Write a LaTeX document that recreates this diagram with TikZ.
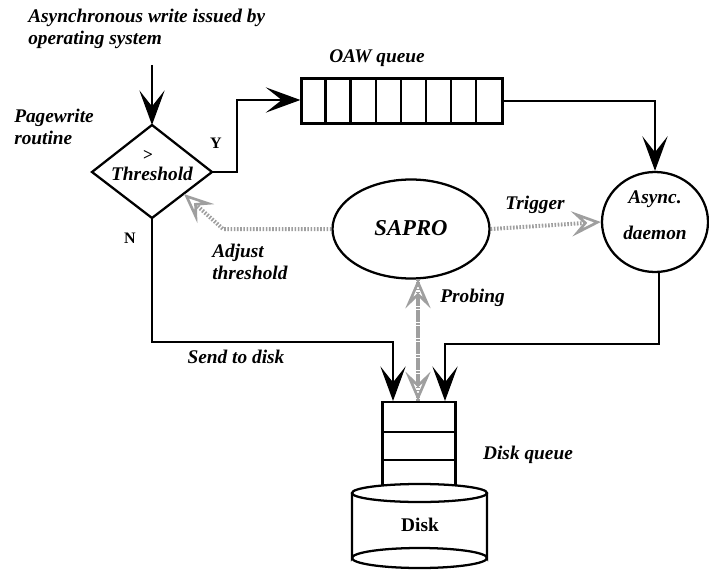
\documentclass[tikz,border=0pt]{standalone}
\usepackage{fontspec}
\setmainfont{Liberation Serif}
\usetikzlibrary{arrows.meta,shapes.geometric}
\begin{document}
\begin{tikzpicture}[x=0.75pt,y=-0.75pt,
  lbl/.style={font=\fontsize{14.5}{17}\selectfont\bfseries\itshape, inner sep=0pt, align=left},
  flow/.style={line width=1.8pt, -{Stealth[length=26pt,width=19pt,inset=12pt,line width=1pt]}},
  probe/.style={gray!75, line width=3pt, dash pattern=on 1.2pt off 1.2pt},
  probehead/.style={probe, -{Stealth[length=22pt,width=19pt,inset=9pt,open,line width=2pt]}},
  shapeln/.style={draw, line width=1.7pt}]
\useasboundingbox (0,0) rectangle (709,570);

% labels
\node[lbl, anchor=west] (top1) at (28,18) {Asynchronous write issued by};
\node[lbl, anchor=west] (top2) at (28,40) {operating system};
\node[lbl, anchor=west] (pw) at (14,127) {Pagewrite\\routine};
\node[lbl] (oawl) at (377,58) {OAW queue};
\node[font=\fontsize{12}{14}\selectfont\bfseries, inner sep=0pt] (yl) at (216,143) {Y};
\node[font=\fontsize{12}{14}\selectfont\bfseries, inner sep=0pt] (nl) at (130,238) {N};
\node[lbl] (trig) at (535,205) {Trigger};
\node[lbl, anchor=west] (adj) at (212,262) {Adjust\\threshold};
\node[lbl, anchor=west] (prob) at (440,298) {Probing};
\node[lbl] (send) at (236,357) {Send to disk};
\node[lbl] (dq) at (528,455) {Disk queue};

% diamond
\coordinate (dT) at (152,125);
\coordinate (dL) at (92,172);
\coordinate (dR) at (212,172);
\coordinate (dB) at (152,218);
\draw[shapeln] (dT) -- (dR) -- (dB) -- (dL) -- cycle;
\node[font=\fontsize{13}{15}\selectfont\bfseries, inner sep=0pt] (gt) at (148,155) {>};
\node[lbl] (thr) at (152,174) {Threshold};
\coordinate (start) at (152,65);
\draw[flow] (start) -- (dT);

% OAW queue
\node[shapeln, minimum width=201pt*0.75, minimum height=45pt*0.75, inner sep=0pt] (oaw) at (402,101) {};
\foreach \i in {1,...,7} {
  \draw[line width=1.7pt] ([xshift=\i*25.1*0.75pt]oaw.north west) -- ([xshift=\i*25.1*0.75pt]oaw.south west);
}
\coordinate (yc1) at (237,172);
\coordinate (yc2) at (237,100);
\draw[flow] (dR) -- (yc1) -- (yc2) -- (oaw.west |- yc2);

% Async daemon
\node[shapeln, ellipse, minimum width=106pt*0.75, minimum height=100pt*0.75, inner sep=0pt] (ad) at (655,222) {};
\node[lbl] (adt1) at (655,199) {Async.};
\node[lbl] (adt2) at (655,233) {daemon};
\coordinate (oc) at (655,101);
\draw[flow] (oaw.east |- oc) -- (oc) -- (ad.north);

% SAPRO
\node[shapeln, ellipse, minimum width=157pt*0.75, minimum height=99pt*0.75, inner sep=0pt] (sapro) at (411,229) {};
\node[font=\fontsize{17}{19}\selectfont\bfseries\itshape, inner sep=0pt] (saprot) at (411,228) {SAPRO};

% disk queue
\node[shapeln, minimum width=73pt*0.75, minimum height=85pt*0.75, inner sep=0pt, anchor=north] (dqb) at (419,401) {};
\draw[line width=1.7pt] (382,432) -- (456,432);
\draw[line width=1.7pt] (382,460) -- (456,460);

% disk cylinder
\draw[line width=1.7pt, fill=white] (352,493) -- (352,558) arc[start angle=180,end angle=360,x radius=67.5,y radius=10] -- (487,493);
\draw[line width=1.7pt] (352,558) arc[start angle=180,end angle=0,x radius=67.5,y radius=10];
\draw[line width=1.7pt, fill=white] (419.5,493) ellipse[x radius=67.5, y radius=9];
\node[font=\fontsize{14.5}{17}\selectfont\bfseries, inner sep=0pt] (disk) at (420,525) {Disk};

% N path
\coordinate (n1) at (152,342);
\coordinate (n2) at (393,342);
\draw[flow] (dB) -- (n1) -- (n2) -- (n2 |- dqb.north);

% Async -> disk
\coordinate (a1) at (659,344);
\coordinate (a2) at (445,344);
\draw[flow] (ad.south -| a1) -- (a1) -- (a2) -- (a2 |- dqb.north);

% dotted gray arrows
\coordinate (p1) at (418,401);
\coordinate (p2) at (418,279);
\draw[probehead] (p1) -- (p2);
\draw[probehead] (p2) -- (p1);
\draw[probehead] (sapro.east) -- (ad.west);
\coordinate (adjc) at (223,229);
\coordinate (adjtip) at (184,194);
\draw[probehead] (sapro.west) -- (adjc) -- (adjtip);
\end{tikzpicture}
\end{document}
